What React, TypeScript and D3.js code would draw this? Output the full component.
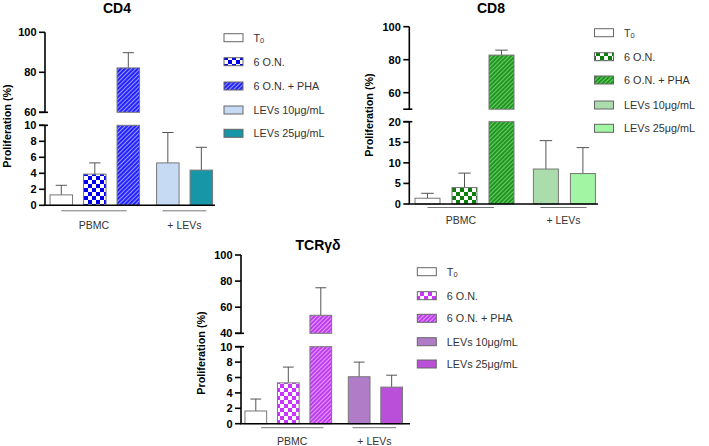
import React from 'react';
import * as d3 from 'd3';

// ---------- data ----------
const categories = ['T0', '6 O.N.', '6 O.N. + PHA', 'LEVs 10μg/mL', 'LEVs 25μg/mL'];
const groupLabels = ['PBMC', '+ LEVs'];
const categoryGroup = [0, 0, 0, 1, 1];

const cd4Values = [1.3, 3.9, 82.2, 5.3, 4.4];
const cd4Sd = [1.2, 1.4, 7.6, 3.8, 2.85];
const cd4UpperTicks = [60, 80, 100];
const cd4LowerTicks = [0, 2, 4, 6, 8, 10];

const cd8Values = [1.4, 4.0, 82.8, 8.5, 7.4];
const cd8Sd = [1.2, 3.5, 3.0, 6.9, 6.3];
const cd8UpperTicks = [60, 80, 100];
const cd8LowerTicks = [0, 5, 10, 15, 20];

const tcrValues = [1.65, 5.3, 53.8, 6.1, 4.75];
const tcrSd = [1.55, 2.05, 21.1, 1.9, 1.55];
const tcrUpperTicks = [40, 60, 80, 100];
const tcrLowerTicks = [0, 2, 4, 6, 8, 10];

// ---------- layout / style ----------
type Cfg = {
  id: string;
  title: string;
  values: number[];
  sd: number[];
  upperDomain: [number, number];
  upperRange: [number, number];
  upperTicks: number[];
  lowerDomain: [number, number];
  lowerRange: [number, number];
  lowerTicks: number[];
  axisX: number;
  xAxisEnd: number;
  firstCenter: number;
  spacing: number;
  groupGap: number;
  barWidth: number;
  titleX: number;
  titleY: number;
  yLabelX: number;
  yLabelY: number;
  groupLineDy: number;
  groupLabelY: number;
  groupLines: [number, number][];
  legendX: number;
  legendYs: number[];
  main: string;
  light: string;
  checkColor: string;
  lev10: string;
  lev25: string;
};

const FONT = 'Liberation Sans, Arial, Helvetica, sans-serif';

const panels: Cfg[] = [
  {
    id: 'cd4', title: 'CD4', values: cd4Values, sd: cd4Sd,
    upperDomain: [60, 100], upperRange: [112.3, 32.3], upperTicks: cd4UpperTicks,
    lowerDomain: [0, 10], lowerRange: [205.3, 125.3], lowerTicks: cd4LowerTicks,
    axisX: 45, xAxisEnd: 215, firstCenter: 61.3, spacing: 33.5, groupGap: 0.18, barWidth: 22.5,
    titleX: 117, titleY: 12.5, yLabelX: 7, yLabelY: 126,
    groupLineDy: 5.5, groupLabelY: 229, groupLines: [[0, 1.95], [3.02, 4.33]],
    legendX: 224, legendYs: [37.7, 61.7, 86, 110, 133.3],
    main: '#2323ff', light: '#9a9aff', checkColor: '#0000f0', lev10: '#c6dbf3', lev25: '#1796a8',
  },
  {
    id: 'cd8', title: 'CD8', values: cd8Values, sd: cd8Sd,
    upperDomain: [50, 100], upperRange: [109.2, 26.7], upperTicks: cd8UpperTicks,
    lowerDomain: [0, 20], lowerRange: [204, 121.7], lowerTicks: cd8LowerTicks,
    axisX: 409.3, xAxisEnd: 598, firstCenter: 427.5, spacing: 37, groupGap: 0.2, barWidth: 25,
    titleX: 491, titleY: 12.5, yLabelX: 369, yLabelY: 115,
    groupLineDy: 3.5, groupLabelY: 224, groupLines: [[0, 1.8], [3.05, 4.3]],
    legendX: 594.5, legendYs: [32.7, 56.7, 80, 105, 128.3],
    main: '#1f961f', light: '#6ccc6c', checkColor: '#0a7f0a', lev10: '#abdcab', lev25: '#a2f5a2',
  },
  {
    id: 'tcr', title: 'TCRγδ', values: tcrValues, sd: tcrSd,
    upperDomain: [40, 100], upperRange: [333.3, 255], upperTicks: tcrUpperTicks,
    lowerDomain: [0, 10], lowerRange: [423.7, 346.7], lowerTicks: tcrLowerTicks,
    axisX: 241, xAxisEnd: 410, firstCenter: 255.8, spacing: 32.5, groupGap: 0.18, barWidth: 21.7,
    titleX: 318, titleY: 249.5, yLabelX: 201, yLabelY: 353,
    groupLineDy: 4, groupLabelY: 445, groupLines: [[0.16, 2.08], [2.98, 4.32]],
    legendX: 417.3, legendYs: [271.7, 295.7, 318.3, 341.7, 364],
    main: '#bd3ef0', light: '#e79bff', checkColor: '#cc33ff', lev10: '#b07cc8', lev25: '#ba4fda',
  },
];

function Patterns({ cfg }: { cfg: Cfg }) {
  return (
    <>
      <pattern id={`${cfg.id}-check`} patternUnits="userSpaceOnUse" width={8} height={8}>
        <rect width={8} height={8} fill="#fff" />
        <rect x={0} y={0} width={4} height={4} fill={cfg.checkColor} />
        <rect x={4} y={4} width={4} height={4} fill={cfg.checkColor} />
      </pattern>
      <pattern id={`${cfg.id}-stripe`} patternUnits="userSpaceOnUse" width={3} height={3} patternTransform="rotate(45)">
        <rect width={3} height={3} fill={cfg.main} />
        <rect x={0} y={0} width={1} height={3} fill={cfg.light} />
      </pattern>
    </>
  );
}

const LEGEND_FONT = 10.8;

function LegendLabel({ text, x, y }: { text: string; x: number; y: number }) {
  if (text === 'T0') {
    return (
      <text x={x} y={y} fontSize={LEGEND_FONT} fill="#333" fontFamily={FONT} dominantBaseline="central">
        T<tspan fontSize={7.5} dy={2.5} fill="#333">0</tspan>
      </text>
    );
  }
  return (
    <text x={x} y={y} fontSize={LEGEND_FONT} fill="#333" fontFamily={FONT} dominantBaseline="central">
      {text}
    </text>
  );
}

function Panel({ cfg }: { cfg: Cfg }) {
  const yUp = d3.scaleLinear().domain(cfg.upperDomain).range(cfg.upperRange);
  const yLo = d3.scaleLinear().domain(cfg.lowerDomain).range(cfg.lowerRange);
  const slot = (i: number) => i + (categoryGroup[i] === 1 ? cfg.groupGap : 0);
  const x = d3.scaleLinear().domain([0, 1]).range([cfg.firstCenter, cfg.firstCenter + cfg.spacing]);
  const fills = ['#ffffff', `url(#${cfg.id}-check)`, `url(#${cfg.id}-stripe)`, cfg.lev10, cfg.lev25];
  const lowMax = cfg.lowerDomain[1];
  const upMin = cfg.upperDomain[0];
  const yOf = (v: number) => (v > lowMax ? yUp(v) : yLo(v));
  const tickLen = 6;
  const axisStroke = 1.6;
  const base = yLo(0);
  const bw = cfg.barWidth;
  const tickFont = 11;

  return (
    <g>
      <text x={cfg.titleX} y={cfg.titleY} textAnchor="middle" fontSize={14} fontWeight="bold" fontFamily={FONT}>
        {cfg.title}
      </text>
      <text
        transform={`translate(${cfg.yLabelX},${cfg.yLabelY}) rotate(-90)`}
        textAnchor="middle"
        dominantBaseline="central"
        fontSize={10.8}
        fontWeight="bold"
        fontFamily={FONT}
      >
        Proliferation (%)
      </text>

      {/* bars */}
      {cfg.values.map((v, i) => {
        const cx = x(slot(i));
        const x0 = cx - bw / 2;
        const tip = v + cfg.sd[i];
        const topY = yOf(v);
        const tipY = yOf(tip);
        return (
          <g key={i}>
            <line x1={cx} x2={cx} y1={topY} y2={tipY} stroke="#555" strokeWidth={1} />
            <line x1={cx - bw * 0.25} x2={cx + bw * 0.25} y1={tipY} y2={tipY} stroke="#555" strokeWidth={1} />
            {v > lowMax ? (
              <>
                <rect x={x0} y={yLo(lowMax)} width={bw} height={base - yLo(lowMax)} fill={fills[i]} stroke="#777" strokeWidth={1} />
                <rect x={x0} y={yUp(v)} width={bw} height={yUp(upMin) - yUp(v)} fill={fills[i]} stroke="#777" strokeWidth={1} />
              </>
            ) : (
              <rect x={x0} y={yLo(v)} width={bw} height={base - yLo(v)} fill={fills[i]} stroke="#777" strokeWidth={1} />
            )}
          </g>
        );
      })}

      {/* y axis upper */}
      <line x1={cfg.axisX} x2={cfg.axisX} y1={yUp(cfg.upperDomain[0])} y2={yUp(cfg.upperDomain[1])} stroke="#000" strokeWidth={axisStroke} />
      <line x1={cfg.axisX - tickLen} x2={cfg.axisX + 3} y1={yUp(upMin)} y2={yUp(upMin)} stroke="#000" strokeWidth={axisStroke} />
      {cfg.upperTicks.map((t) => (
        <g key={`u${t}`}>
          <line x1={cfg.axisX - tickLen} x2={cfg.axisX} y1={yUp(t)} y2={yUp(t)} stroke="#000" strokeWidth={axisStroke} />
          <text x={cfg.axisX - tickLen - 2.5} y={yUp(t)} textAnchor="end" dominantBaseline="central" fontSize={tickFont} fontWeight="bold" fontFamily={FONT}>
            {t}
          </text>
        </g>
      ))}
      {/* y axis lower */}
      <line x1={cfg.axisX} x2={cfg.axisX} y1={yLo(0)} y2={yLo(lowMax)} stroke="#000" strokeWidth={axisStroke} />
      <line x1={cfg.axisX - tickLen} x2={cfg.axisX + 3} y1={yLo(lowMax)} y2={yLo(lowMax)} stroke="#000" strokeWidth={axisStroke} />
      {cfg.lowerTicks.map((t) => (
        <g key={`l${t}`}>
          <line x1={cfg.axisX - tickLen} x2={cfg.axisX} y1={yLo(t)} y2={yLo(t)} stroke="#000" strokeWidth={axisStroke} />
          <text x={cfg.axisX - tickLen - 2.5} y={yLo(t)} textAnchor="end" dominantBaseline="central" fontSize={tickFont} fontWeight="bold" fontFamily={FONT}>
            {t}
          </text>
        </g>
      ))}
      {/* x axis */}
      <line x1={cfg.axisX - 0.8} x2={cfg.xAxisEnd} y1={base} y2={base} stroke="#000" strokeWidth={axisStroke} />

      {/* group lines */}
      {groupLabels.map((g, gi) => {
        const [a, b] = cfg.groupLines[gi];
        const xa = x(a);
        const xb = x(b);
        return (
          <g key={g}>
            <line x1={xa} x2={xb} y1={base + cfg.groupLineDy} y2={base + cfg.groupLineDy} stroke="#777" strokeWidth={1} />
            <text x={(xa + xb) / 2} y={cfg.groupLabelY} textAnchor="middle" fontSize={10.5} fill="#333" fontFamily={FONT}>
              {g}
            </text>
          </g>
        );
      })}

      {/* legend */}
      {categories.map((c, i) => (
        <g key={c}>
          <rect x={cfg.legendX} y={cfg.legendYs[i] - 4} width={19} height={8} fill={fills[i]} stroke="#666" strokeWidth={1} />
          <LegendLabel text={c} x={cfg.legendX + 29.5} y={cfg.legendYs[i]} />
        </g>
      ))}
    </g>
  );
}

export default function App() {
  return (
    <svg width={709} height={446} style={{ position: 'absolute', left: 0, top: 0, background: '#fff' }} xmlns="http://www.w3.org/2000/svg">
      <defs>
        {panels.map((p) => (
          <Patterns key={p.id} cfg={p} />
        ))}
      </defs>
      <rect width={709} height={446} fill="#fff" />
      {panels.map((p) => (
        <Panel key={p.id} cfg={p} />
      ))}
    </svg>
  );
}
